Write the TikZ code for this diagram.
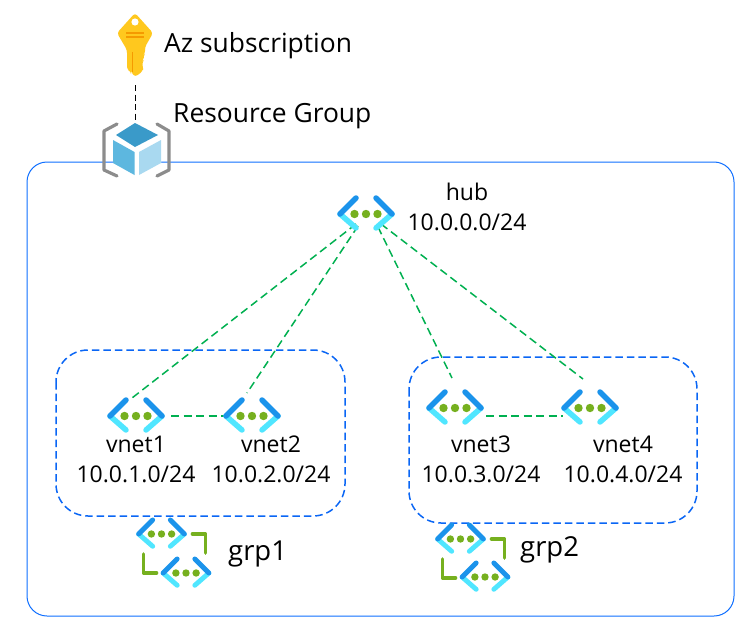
\documentclass[tikz,border=0pt]{standalone}
\usepackage{fontspec}
\setmainfont{Open Sans}
\usetikzlibrary{calc}
\definecolor{vdark}{HTML}{1B93EB}
\definecolor{vcyan}{HTML}{50E6FF}
\definecolor{vdot}{HTML}{76B01F}
\definecolor{frameblue}{HTML}{0F6FFF}
\definecolor{dashblue}{HTML}{0A66F5}
\definecolor{linkgreen}{HTML}{00B050}
\definecolor{cubetop}{HTML}{3A9AC9}
\definecolor{cubeleft}{HTML}{5DB7DF}
\definecolor{cuberight}{HTML}{A9D9F0}
\definecolor{keygold}{HTML}{FFC81E}
\definecolor{keydark}{HTML}{F59A00}
\tikzset{
  x=1pt,y=-1pt,
  frame/.style={draw=frameblue,line width=1pt,rounded corners=20pt},
  group/.style={draw=dashblue,line width=1.5pt,dash pattern=on 7.5pt off 4pt,rounded corners=32pt},
  link/.style={draw=linkgreen,line width=1.5pt,dash pattern=on 8pt off 4.5pt},
  lbl/.style={inner sep=0pt,font=\fontsize{23}{27}\selectfont,align=center},
  big/.style={inner sep=0pt,font=\fontsize{26.4}{30}\selectfont,anchor=west},
  grpl/.style={inner sep=0pt,font=\fontsize{27.5}{30}\selectfont,anchor=west},
  vbox/.style={inner sep=0pt,minimum width=56pt,minimum height=32pt},
  pics/vnet/.style={code={
    \draw[vcyan,line width=#1*5.5pt,line cap=round] (-26*#1,0)--(-10*#1,14*#1)
      (26*#1,0)--(10*#1,14*#1);
    \draw[vdark,line width=#1*5.5pt,line cap=round] (-26*#1,0)--(-10*#1,-16*#1)
      (26*#1,0)--(10*#1,-16*#1);
    \fill[vdot] (-11.5*#1,0) circle (4.2*#1) (0,0) circle (4.2*#1) (11.5*#1,0) circle (4.2*#1);
  }},
  pics/brackets/.style={code={
    \draw[vdot,line width=3.6pt,line cap=round,line join=round] (31,0)--(44,0)--(44,19);
    \draw[vdot,line width=3.6pt,line cap=round,line join=round] (-18,20)--(-18,39)--(-5,39);
  }},
}
\begin{document}
\begin{tikzpicture}
\useasboundingbox (0,0) rectangle (741,626);
\fill[white] (0,0) rectangle (741,626);
\draw[frame] (27,162) rectangle (734,616);
\draw[group] (56,350) rectangle (345,516);
\draw[group] (409,357) rectangle (697,523);

% nodes that carry the icons
\node[vbox] (hub) at (366,214) {};
\node[vbox] (v1) at (136,416) {};
\node[vbox] (v2) at (252,416) {};
\node[vbox] (v3) at (455,408) {};
\node[vbox] (v4) at (590,408) {};

% connector ends
\coordinate (hubA) at (356,224);
\coordinate (hubB) at (358,226);
\coordinate (hubC) at (378,227);
\coordinate (hubD) at (381,224);
\coordinate (v1T) at (132,398);
\coordinate (v2T) at (247,393);
\coordinate (v3T) at (452,378);
\coordinate (v4T) at (583,379);
\coordinate (v1R) at (171,416);
\coordinate (v3R) at (486,416);
\coordinate (v4L) at (563,416);

\draw[link] (hubA) -- (v1T);
\draw[link] (hubB) -- (v2T);
\draw[link] (hubC) -- (v3T);
\draw[link] (hubD) -- (v4T);
\draw[link] (v1R) -- (v2.west);
\draw[link] (v3R) -- (v4L);

\pic at (366,214) {vnet=1};
\pic at (136,416) {vnet=1};
\pic at (252,416) {vnet=1};
\pic at (455,408) {vnet=1};
\pic at (590,408) {vnet=1};

% grp icons
\pic at (161.5,534) {vnet=0.88};
\pic at (186,573) {vnet=0.88};
\pic at (161.5,534) {brackets};
\pic at (460.5,539) {vnet=0.88};
\pic at (485,577) {vnet=0.88};
\pic at (460.5,539) {brackets};

% key
\fill[keygold,rounded corners=3pt] (135,13) -- (153,33) -- (145,47) -- (145,54) -- (143,56) -- (144,60) -- (142,62) -- (143,67) -- (143,71) -- (135,77) -- (131,72) -- (131,71) -- (127,70) -- (127,50) -- (117,33) -- cycle;
\fill[white] (135,22) circle (3.6);
\draw[keydark,line width=1.1pt] (126,33)--(144,33) (126,37)--(144,37) (132.5,52)--(132.5,72);

% connector key-cube
\node[inner sep=0pt,minimum size=2pt] (keyb) at (135.5,84) {};
\node[inner sep=0pt,minimum size=2pt] (cube) at (135.5,123) {};
\draw[black,line width=1.8pt,dash pattern=on 6pt off 3.5pt] (keyb) -- (cube);

% resource group cube
\draw[gray!90,line width=3.2pt,line cap=round,line join=round] (117,124)--(104,131)--(104,170)--(117,176);
\draw[gray!90,line width=3.2pt,line cap=round,line join=round] (157,124)--(169,131)--(169,170)--(157,176);
\fill[white] (113,137)--(135,123)--(161,137)--(161,164)--(136,177)--(113,164)--cycle;
\fill[cubetop] (135,123)--(158,135)--(135,147)--(116,135)--cycle;
\fill[cubeleft] (113,140)--(134.5,152)--(134.5,175)--(113,163)--cycle;
\fill[cuberight] (139,152)--(161,140)--(161,163)--(139,175)--cycle;

% text
\node[big] (az) at (164,46) {Az subscription};
\node[big] (rg) at (173,116) {Resource Group};
\node[lbl] (hubl) at (467,207) {hub\\[3pt]10.0.0.0/24};
\node[lbl] (v1l) at (136,459) {vnet1\\[3pt]10.0.1.0/24};
\node[lbl] (v2l) at (271,459) {vnet2\\[3pt]10.0.2.0/24};
\node[lbl] (v3l) at (481,459) {vnet3\\[3pt]10.0.3.0/24};
\node[lbl] (v4l) at (623,459) {vnet4\\[3pt]10.0.4.0/24};
\node[grpl] (g1) at (228,554) {grp1};
\node[grpl] (g2) at (520,550) {grp2};
\end{tikzpicture}
\end{document}
